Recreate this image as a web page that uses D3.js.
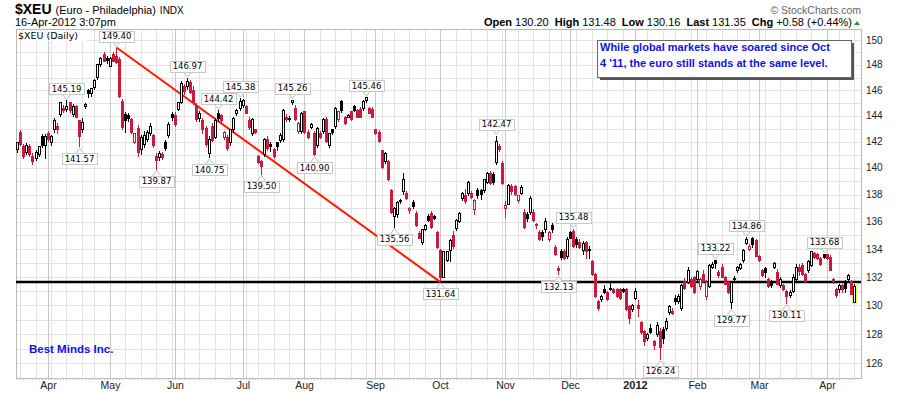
<!DOCTYPE html>
<html>
<head>
<meta charset="utf-8">
<script src="https://cdnjs.cloudflare.com/ajax/libs/d3/7.8.5/d3.min.js"></script>
<style>
  body { margin: 0; background: #fff; }
  svg { display: block; }
</style>
</head>
<body>
<div id="chart"></div>
<script>
const width = 898;
const height = 394;

// trading calendar
const firstDay = "2011-03-18";
const lastDay = "2012-04-16";
const holidays = ["2011-04-22", "2011-05-30", "2011-07-04", "2011-09-05", "2011-11-24",
  "2011-12-26", "2012-01-02", "2012-01-16", "2012-02-20", "2012-04-06"];

// daily candles: open, high, low, close
const ohlc = [
  [141.4,142.0,141.1,141.9],[142.7,142.9,141.7,141.8],[141.6,141.8,140.7,140.9],[141.2,141.9,141.0,141.7],
  [141.6,141.8,140.8,141.0],[140.9,141.1,140.2,140.5],[140.7,141.4,140.5,141.2],[141.0,141.7,140.8,141.6],
  [142.4,142.6,141.5,141.7],[141.7,142.6,140.7,142.4],[142.6,142.8,142.0,142.2],[141.9,142.5,141.7,142.4],
  [142.9,143.8,142.7,143.6],[143.2,143.4,142.6,142.9],[144.1,145.1,143.9,145.0],[144.6,144.8,144.2,144.4],
  [144.5,145.19,144.3,144.7],[145.0,145.1,144.2,144.4],[144.1,144.9,143.9,144.7],[144.7,144.8,143.8,143.9],
  [143.6,143.7,141.57,142.4],[142.9,143.8,142.7,143.5],[144.7,145.0,144.5,144.9],[146.0,146.1,145.4,145.7],
  [145.7,146.2,145.5,146.1],[146.2,146.9,146.0,146.8],[147.0,148.1,146.8,148.0],[148.0,148.6,147.8,148.5],
  [148.8,149.0,148.2,148.3],[148.5,148.7,148.1,148.35],[147.9,148.6,147.8,148.5],[148.8,149.0,148.2,148.3],
  [148.7,149.40,148.1,148.2],[148.4,148.6,145.4,145.5],[145.1,145.3,142.9,143.1],[144.1,144.3,142.7,143.6],
  [144.0,144.2,143.5,143.8],[143.7,143.8,142.6,142.7],[141.9,142.7,141.8,142.6],[143.0,143.3,140.8,141.2],
  [141.4,142.5,141.0,142.3],[141.8,142.8,141.5,142.5],[142.2,142.9,142.0,142.7],[142.6,143.4,142.4,143.2],
  [142.5,142.6,141.5,141.7],[140.9,141.1,139.87,140.6],[140.8,141.3,140.5,141.1],[141.0,141.2,140.6,140.8],
  [141.9,142.1,141.3,141.5],[142.5,143.5,142.3,143.3],[144.1,144.3,143.6,143.9],[144.0,144.3,143.1,143.3],
  [144.5,145.1,144.4,145.0],[145.0,146.7,144.9,146.5],[146.3,146.5,145.6,145.9],[146.3,146.97,146.0,146.7],
  [146.6,146.8,145.7,145.8],[146.0,146.3,144.8,145.0],[144.8,145.0,143.5,143.7],[143.8,144.4,143.5,144.2],
  [143.6,143.8,142.6,142.9],[143.0,143.2,141.6,141.8],[141.1,142.4,140.75,142.2],[143.2,143.4,142.0,142.1],
  [142.3,143.8,142.2,143.6],[144.2,144.42,143.5,143.8],[144.0,144.1,143.4,143.6],[142.3,142.8,142.1,142.7],
  [142.3,142.5,141.3,141.5],[141.9,143.0,141.7,142.9],[142.9,143.9,142.7,143.8],[144.2,144.5,144.0,144.4],
  [144.6,145.38,144.4,145.1],[144.8,145.3,144.6,145.2],[144.7,144.8,144.1,144.2],[143.6,143.9,142.9,143.1],
  [142.6,143.8,142.4,143.7],[142.9,143.0,142.6,142.7],[140.9,141.0,140.3,140.4],[140.5,140.6,139.50,140.1],
  [141.0,142.3,140.8,142.2],[142.2,142.4,141.3,141.5],[141.8,142.0,141.2,141.6],[141.4,141.5,140.7,140.9],
  [141.9,142.0,141.3,141.6],[142.1,142.7,141.9,142.5],[142.2,144.5,142.0,144.4],[143.9,144.1,143.5,143.7],
  [143.7,144.0,143.5,143.8],[145.0,145.26,144.8,145.2],[144.6,144.8,143.6,143.7],[142.8,143.5,142.6,143.4],
  [142.8,144.3,142.6,144.2],[144.3,144.4,142.6,142.7],[142.7,142.9,142.2,142.3],[143.1,143.4,143.0,143.3],
  [142.6,142.8,140.90,141.0],[141.7,143.1,141.5,143.0],[142.6,142.8,142.2,142.3],[142.8,143.8,142.6,143.7],
  [143.7,143.9,141.9,142.0],[141.7,142.7,141.5,142.6],[142.9,143.0,142.5,142.7],[143.2,144.7,143.0,144.6],
  [143.7,144.4,143.5,144.3],[145.1,145.2,144.2,144.4],[143.9,144.0,143.3,143.4],[143.9,144.1,143.8,144.0],
  [144.3,144.4,143.6,143.7],[144.7,144.8,144.3,144.4],[144.4,144.5,143.8,143.9],[144.5,144.7,143.8,143.85],
  [144.6,145.2,144.4,145.1],[145.2,145.46,145.0,145.4],[144.6,144.7,144.1,144.2],[144.5,144.7,143.8,143.9],
  [142.9,143.0,142.5,142.6],[142.7,142.9,141.9,142.0],[141.3,141.4,139.9,140.0],[140.5,141.2,140.3,141.1],
  [140.5,140.6,139.0,139.1],[138.3,138.4,136.6,136.7],[136.4,137.1,135.56,137.0],[136.5,137.5,136.3,137.4],
  [137.5,137.7,137.3,137.6],[138.2,139.6,138.0,139.1],[138.1,138.3,137.6,137.7],[136.8,137.1,136.6,137.0],
  [137.4,137.6,136.9,137.1],[136.6,136.8,135.6,135.7],[135.1,135.3,134.7,134.8],[134.5,135.5,134.3,135.4],
  [135.4,135.8,135.3,135.7],[136.4,136.6,136.0,136.1],[136.6,136.8,135.5,135.6],[136.4,136.5,136.1,136.2],
  [135.2,135.3,134.0,134.1],[133.9,134.0,131.64,132.0],[132.0,133.9,131.9,133.8],[133.2,133.9,133.1,133.85],
  [133.9,134.7,133.1,134.6],[135.0,135.3,134.0,134.2],[135.5,136.2,135.3,136.1],[136.0,136.7,135.9,136.6],
  [137.7,138.2,137.5,138.1],[137.9,138.4,137.3,137.5],[138.1,139.0,137.9,138.9],[138.1,138.3,137.7,137.8],
  [136.9,137.7,136.5,137.6],[138.3,138.5,137.7,137.9],[138.3,138.4,137.6,138.0],[138.3,139.2,138.1,139.1],
  [138.9,139.7,138.8,139.6],[139.6,139.8,138.7,138.8],[139.5,139.7,138.7,138.9],[140.4,142.47,140.2,142.0],
  [141.6,141.8,141.2,141.4],[140.3,140.5,138.7,138.8],[137.0,137.5,136.3,137.2],[137.3,138.8,137.2,138.7],
  [138.6,138.8,138.0,138.2],[138.6,138.7,137.9,138.0],[137.6,138.0,137.4,137.9],[138.1,138.7,138.0,138.5],
  [136.7,136.9,135.5,135.6],[136.5,136.7,136.0,136.2],[136.7,137.9,136.5,137.7],[136.7,136.9,136.0,136.1],
  [135.8,135.9,135.5,135.7],[135.2,135.4,134.6,134.7],[135.2,135.4,134.6,134.9],[135.4,136.3,135.2,136.0],
  [134.7,135.3,134.5,135.2],[135.7,135.9,135.2,135.4],[134.1,134.3,133.5,133.6],[132.6,132.8,132.13,132.5],
  [133.8,134.0,133.2,133.4],[133.8,134.0,133.2,133.3],[133.5,134.9,133.3,134.7],[135.2,135.3,134.7,134.8],
  [135.3,135.48,134.1,134.2],[134.7,134.9,134.1,134.3],[134.5,134.7,134.0,134.1],[133.9,134.6,133.6,134.4],
  [134.5,134.6,133.3,133.8],[133.9,134.2,133.3,134.0],[133.1,133.2,132.1,132.2],[132.2,132.3,130.5,130.6],
  [130.3,130.4,129.6,129.8],[130.4,130.7,130.2,130.6],[131.1,131.4,130.8,130.9],[130.9,131.0,130.3,130.4],
  [131.2,131.6,131.0,131.1],[131.1,131.2,130.8,130.9],[131.1,131.2,130.5,130.6],[131.1,131.2,130.4,130.5],
  [131.1,131.2,130.9,131.0],[131.1,131.2,129.6,129.7],[129.9,130.0,128.7,129.1],[129.7,130.1,129.5,130.0],
  [130.5,131.2,130.4,131.0],[130.0,130.4,129.2,129.8],[128.8,128.9,127.9,128.1],[128.2,128.3,127.2,127.5],
  [127.7,128.1,127.5,128.0],[128.4,128.7,128.0,128.1],[127.5,127.6,126.9,127.2],[128.0,128.8,127.8,128.6],
  [128.2,128.4,126.24,127.1],[128.3,128.5,127.3,127.7],[128.4,129.1,128.2,128.9],[129.5,130.0,129.3,129.9],
  [129.6,129.8,129.3,129.4],[130.5,130.7,130.0,130.3],[130.3,130.8,130.1,130.6],[129.8,131.5,129.6,131.4],
  [131.7,131.9,131.1,131.2],[131.6,132.7,131.5,132.5],[131.8,132.0,131.2,131.3],[132.0,132.1,130.8,130.9],
  [131.8,132.5,131.6,132.4],[131.3,131.9,131.1,131.8],[132.2,132.5,131.6,131.7],[130.6,131.8,130.4,131.6],
  [131.3,132.9,131.2,132.8],[132.7,133.1,132.6,132.9],[133.2,133.22,132.6,133.0],[132.3,132.5,131.9,132.1],
  [132.7,132.9,131.9,132.0],[132.0,132.1,131.4,131.5],[131.6,131.7,130.8,130.9],[130.2,131.7,129.77,131.6],
  [131.9,132.1,131.6,131.8],[132.5,132.8,132.3,132.7],[132.6,133.0,132.5,132.9],[133.2,134.0,133.0,133.9],
  [134.4,134.86,134.3,134.7],[134.0,134.4,133.9,134.2],[134.8,134.9,134.1,134.3],[134.6,134.7,133.4,133.5],
  [133.5,133.6,133.1,133.2],[132.5,132.6,132.0,132.1],[132.6,132.7,131.9,132.3],[131.8,131.9,131.2,131.3],
  [131.7,131.8,131.2,131.4],[132.7,133.1,132.6,133.0],[132.3,132.6,131.4,131.5],[131.4,132.0,131.2,131.8],
  [131.4,131.5,131.0,131.1],[131.0,131.1,130.11,130.6],[130.7,131.1,130.5,130.9],[131.0,132.2,130.9,132.0],
  [131.8,132.9,131.7,132.7],[132.7,132.9,132.1,132.4],[132.8,133.0,132.1,132.2],[132.2,132.3,131.6,131.7],
  [132.5,133.2,132.3,133.1],[132.8,133.9,132.7,133.8],[133.7,133.8,133.3,133.4],[133.6,133.7,133.2,133.3],
  [133.3,133.4,132.8,132.9],[133.6,133.68,133.3,133.4],[133.6,133.65,133.2,133.3],[133.4,133.6,132.4,132.5],
  [131.8,131.9,131.5,131.7],[131.1,131.2,130.5,130.7],[131.1,131.5,130.9,131.4],[131.4,131.5,130.9,131.1],
  [131.7,131.8,130.9,131.2],[131.8,132.2,131.6,132.1],[131.7,131.8,130.7,130.77],[130.20,131.48,130.16,131.35]
];

// swing labels: candle index, value, side
const swingIndex = [16, 20, 32, 45, 55, 62, 65, 72, 79, 89, 96, 113, 122, 137, 155, 175, 180, 208, 226, 231, 236, 249, 261];
const swingValue = [145.19, 141.57, 149.40, 139.87, 146.97, 140.75, 144.42, 145.38, 139.50, 145.26, 140.90, 145.46,
  135.56, 131.64, 142.47, 132.13, 135.48, 126.24, 133.22, 129.77, 134.86, 130.11, 133.68];
const swingSide = ["h","l","h","l","h","l","h","h","l","h","l","h","l","l","h","l","h","l","h","l","h","l","h"];

const yTicks = [126, 128, 130, 132, 134, 136, 138, 140, 142, 144, 146, 148, 150];
const supportLevel = 131.64;
const trendFrom = 32;
const trendTo = 137;

const note = ["While global markets have soared since Oct", "4 '11, the euro still stands at the same level."];

// build trading days
const holidaySet = new Set(holidays);
const fmt = d3.utcFormat("%Y-%m-%d");
const days = d3.utcDays(new Date(firstDay), d3.utcDay.offset(new Date(lastDay), 1))
  .filter((d) => d.getUTCDay() !== 0 && d.getUTCDay() !== 6 && !holidaySet.has(fmt(d)));

const data = days.map((d, i) => ({
  date: d, i,
  o: ohlc[i][0], h: ohlc[i][1], l: ohlc[i][2], c: ohlc[i][3],
  prev: i > 0 ? ohlc[i - 1][3] : ohlc[i][0]
}));

const plotL = 16, plotR = 861, plotT = 29, plotB = 378;

const x = d3.scaleBand()
  .domain(d3.range(data.length))
  .range([15.5, 15.5 + data.length * 3.09]);
const cx = (i) => Math.round(x(i) + x.bandwidth() / 2) + 0.5;

const y = d3.scaleLog().domain([125, 150.9]).range([plotB, plotT]);

const svg = d3.select("#chart").append("svg")
  .attr("width", width).attr("height", height)
  .style("font-family", "Arial, 'Liberation Sans', sans-serif");

// grid
const grid = svg.append("g").attr("shape-rendering", "crispEdges");
grid.selectAll("line.h")
  .data(d3.range(126, 151))
  .join("line")
  .attr("x1", plotL).attr("x2", plotR)
  .attr("y1", (d) => Math.round(y(d)) + 0.5).attr("y2", (d) => Math.round(y(d)) + 0.5)
  .attr("stroke", "#e3e3e3");

const weekStarts = data.filter((d, i) => i > 0 && +d3.utcWeek.floor(d.date) > +d3.utcWeek.floor(data[i - 1].date));
grid.selectAll("line.w")
  .data(weekStarts)
  .join("line")
  .attr("x1", (d) => cx(d.i)).attr("x2", (d) => cx(d.i))
  .attr("y1", plotT).attr("y2", plotB)
  .attr("stroke", "#e3e3e3");

const monthStarts = data.filter((d, i) => i > 0 && d.date.getUTCMonth() !== data[i - 1].date.getUTCMonth());
grid.selectAll("line.m")
  .data(monthStarts)
  .join("line")
  .attr("x1", (d) => cx(d.i)).attr("x2", (d) => cx(d.i))
  .attr("y1", plotT).attr("y2", plotB)
  .attr("stroke", "#c8c8c8");

// frame
svg.append("rect")
  .attr("x", plotL + 0.5).attr("y", plotT + 0.5)
  .attr("width", plotR - plotL).attr("height", plotB - plotT)
  .attr("fill", "none").attr("stroke", "#b8b8b8")
  .attr("shape-rendering", "crispEdges");

// day ticks under the plot
svg.append("g").attr("shape-rendering", "crispEdges")
  .selectAll("line")
  .data(data)
  .join("line")
  .attr("x1", (d) => cx(d.i)).attr("x2", (d) => cx(d.i))
  .attr("y1", plotB).attr("y2", plotB + 2)
  .attr("stroke", "#c8c8c8");

// y axis labels on the right
svg.append("g")
  .selectAll("text")
  .data(yTicks)
  .join("text")
  .attr("x", plotR + 5)
  .attr("y", (d) => y(d) + 3.5)
  .attr("font-size", 10)
  .attr("fill", "#222")
  .text((d) => d);

// month labels
svg.append("g")
  .selectAll("text")
  .data(monthStarts)
  .join("text")
  .attr("x", (d) => cx(d.i))
  .attr("y", 389)
  .attr("text-anchor", "middle")
  .attr("font-size", (d) => (d.date.getUTCMonth() === 0 ? 11 : 10.5))
  .attr("font-weight", (d) => (d.date.getUTCMonth() === 0 ? "bold" : "normal"))
  .attr("fill", "#222")
  .text((d) => (d.date.getUTCMonth() === 0 ? d3.utcFormat("%Y")(d.date) : d3.utcFormat("%b")(d.date)));

// support line and trend line
svg.append("line")
  .attr("x1", plotL).attr("x2", plotR)
  .attr("y1", y(supportLevel)).attr("y2", y(supportLevel))
  .attr("stroke", "#000").attr("stroke-width", 2.6);

svg.append("line")
  .attr("x1", cx(trendFrom)).attr("y1", y(data[trendFrom].h))
  .attr("x2", cx(trendTo)).attr("y2", y(data[trendTo].l))
  .attr("stroke", "#ff1a00").attr("stroke-width", 2);

// highlight last candle
const last = data[data.length - 1];
svg.append("rect")
  .attr("x", cx(last.i) - 3).attr("y", y(last.h) - 1)
  .attr("width", 6).attr("height", y(last.l) - y(last.h) + 2)
  .attr("fill", "#f5f07a");

// candles
const red = "#cc1a3d";
const candle = svg.append("g").attr("shape-rendering", "crispEdges")
  .selectAll("g")
  .data(data)
  .join("g");

const colorOf = (d) => (d.c < d.prev ? red : "#000");

candle.append("line")
  .attr("x1", (d) => cx(d.i)).attr("x2", (d) => cx(d.i))
  .attr("y1", (d) => y(d.h)).attr("y2", (d) => y(d.l))
  .attr("stroke", colorOf);

candle.append("rect")
  .attr("x", (d) => cx(d.i) - 1)
  .attr("y", (d) => y(Math.max(d.o, d.c)))
  .attr("width", 2)
  .attr("height", (d) => Math.max(1, Math.abs(y(d.o) - y(d.c))))
  .attr("fill", (d) => (d.c >= d.o ? "#fff" : colorOf(d)))
  .attr("stroke", colorOf);

// swing labels
const labels = svg.append("g");
swingIndex.forEach((i, k) => {
  const v = swingValue[k];
  const high = swingSide[k] === "h";
  const px = cx(i);
  const py = y(v);
  const g = labels.append("g");
  const t = g.append("text")
    .attr("font-family", "'DejaVu Sans', Verdana, sans-serif")
    .attr("font-size", 8.5)
    .attr("text-anchor", "middle")
    .attr("x", px)
    .text(v.toFixed(2));
  const w = t.node().getComputedTextLength() + 5;
  const bh = 11;
  const by = high ? py - 6 - bh : py + 6;
  t.attr("y", by + 8.5);
  g.insert("path", "text")
    .attr("d", high
      ? `M${px - 4},${by + bh} L${px},${py - 1} L${px + 4},${by + bh}`
      : `M${px - 4},${by} L${px},${py + 1} L${px + 4},${by}`)
    .attr("fill", "#fff").attr("stroke", "#bbb");
  g.insert("rect", "text")
    .attr("x", Math.round(px - w / 2) + 0.5).attr("y", Math.round(by) + 0.5)
    .attr("width", Math.round(w)).attr("height", bh)
    .attr("fill", "#fff").attr("stroke", "#c8c8c8");
});

// chart label in the corner
svg.append("rect").attr("x", 17).attr("y", 30).attr("width", 70).attr("height", 11).attr("fill", "#fff");
svg.append("text")
  .attr("x", 18).attr("y", 39)
  .attr("font-family", "'DejaVu Sans', Verdana, sans-serif")
  .attr("font-size", 9.5)
  .text("$XEU (Daily)");

// note box
const nb = svg.append("g");
nb.append("rect").attr("x", 600).attr("y", 43).attr("width", 254).attr("height", 37).attr("fill", "#555");
nb.append("rect").attr("x", 597.5).attr("y", 40.5).attr("width", 254).attr("height", 37)
  .attr("fill", "#fff").attr("stroke", "#666");
nb.selectAll("text")
  .data(note)
  .join("text")
  .attr("x", 600)
  .attr("y", (d, i) => 51 + i * 16)
  .attr("font-size", 11)
  .attr("font-weight", "bold")
  .attr("fill", "#1010f0")
  .text((d) => d);

svg.append("text")
  .attr("x", 29).attr("y", 353)
  .attr("font-size", 11.5)
  .attr("font-weight", "bold")
  .attr("fill", "#1010f0")
  .text("Best Minds Inc.");

// titles
const title = svg.append("text").attr("x", 15).attr("y", 14);
title.append("tspan").attr("font-size", 14).attr("font-weight", "bold").text("$XEU");
title.append("tspan").attr("font-size", 11).attr("dx", 4).text("(Euro - Philadelphia)");
title.append("tspan").attr("font-size", 10).attr("dx", 4).text("INDX");

svg.append("text")
  .attr("x", 15).attr("y", 26)
  .attr("font-size", 11)
  .text("16-Apr-2012 3:07pm");

svg.append("text")
  .attr("x", 861).attr("y", 14)
  .attr("text-anchor", "end")
  .attr("font-size", 10.5)
  .attr("fill", "#666")
  .text("© StockCharts.com");

const quote = [["Open", last.o.toFixed(2)], ["High", last.h.toFixed(2)], ["Low", last.l.toFixed(2)],
  ["Last", last.c.toFixed(2)], ["Chg", "+0.58 (+0.44%)"]];
const qt = svg.append("text").attr("x", 852).attr("y", 26).attr("text-anchor", "end").attr("font-size", 11);
quote.forEach(([k, v], j) => {
  qt.append("tspan").attr("font-weight", "bold").attr("dx", j ? 6 : 0).text(k);
  qt.append("tspan").attr("dx", 3).text(v);
});
svg.append("path")
  .attr("d", "M854,25 L857,21 L860,25 Z")
  .attr("fill", "#2a9a2a");
</script>
</body>
</html>
